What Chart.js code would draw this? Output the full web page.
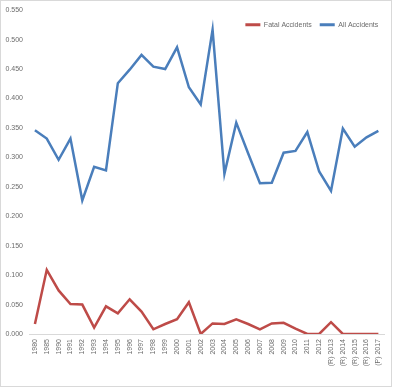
<!DOCTYPE html>
<html>
<head>
<meta charset="utf-8">
<script src="https://cdn.jsdelivr.net/npm/chart.js@4/dist/chart.umd.min.js"></script>
<style>
html,body{margin:0;padding:0;background:#fff;}
#wrap{position:absolute;left:0;top:0;width:393px;height:388px;}
#frame{position:absolute;left:0;top:0;width:392px;height:387px;box-sizing:border-box;border:1px solid #d9d9d9;pointer-events:none;}
</style>
</head>
<body>
<div id="wrap"><canvas id="c" width="393" height="388"></canvas></div>
<div id="frame"></div>
<script>
const categories = ["1980","1985","1990","1991","1992","1993","1994","1995","1996","1997","1998","1999","2000","2001","2002","2003","2004","2005","2006","2007","2008","2009","2010","2011","2012","(R) 2013","(R) 2014","(R) 2015","(R) 2016","(P) 2017"];
const fatalAccidents = [0.017,0.109,0.074,0.051,0.050,0.011,0.047,0.035,0.059,0.038,0.008,0.017,0.025,0.054,0.000,0.018,0.017,0.025,0.017,0.008,0.018,0.019,0.009,0.000,0.000,0.020,0.000,0.000,0.000,0.000];
const allAccidents = [0.346,0.332,0.296,0.332,0.227,0.284,0.278,0.426,0.449,0.474,0.454,0.450,0.487,0.419,0.390,0.517,0.272,0.359,0.307,0.256,0.257,0.308,0.311,0.343,0.276,0.243,0.349,0.318,0.334,0.345];
const yTicks = [0,0.05,0.1,0.15,0.2,0.25,0.3,0.35,0.4,0.45,0.5,0.55];

const RED = '#BE4B48', BLUE = '#4A7EBB', TXT = '#6b6b6b';
const FONT = {family: "'Liberation Sans', Arial, sans-serif", size: 7};

const legendFlat = {
  id: 'legendFlat',
  afterInit(chart){
    const lg = chart.legend;
    if (!lg) return;
    const f = lg.fit, d = lg.draw;
    lg.fit = function(){ f.call(this); this._realH = this.height; this.height = 0; };
    lg.draw = function(){
      const h = this.height, b = this.bottom;
      this.height = this._realH + 6; this.bottom = this.top + this.height;
      const ctx = this.ctx;
      ctx.save(); ctx.translate(2, 3);
      d.call(this);
      ctx.restore();
      this.height = h; this.bottom = b;
    };
  }
};

new Chart(document.getElementById('c'), {
  type: 'line',
  data: {
    labels: categories,
    datasets: [
      {label: 'Fatal Accidents', data: fatalAccidents, borderColor: RED, backgroundColor: RED, borderWidth: 2.5, pointRadius: 0, tension: 0},
      {label: 'All Accidents', data: allAccidents, borderColor: BLUE, backgroundColor: BLUE, borderWidth: 2.5, pointRadius: 0, tension: 0}
    ]
  },
  options: {
    responsive: false,
    animation: false,
    devicePixelRatio: 1,
    layout: {padding: {left: 0, right: 8.7, top: 9, bottom: 0}},
    plugins: {
      legend: {
        position: 'top',
        align: 'end',
        labels: {
          color: TXT, font: FONT, boxWidth: 15, boxHeight: 3, padding: 8,
          generateLabels(chart){
            return chart.data.datasets.map((ds, i) => ({
              text: ds.label, fillStyle: ds.borderColor, strokeStyle: ds.borderColor,
              lineWidth: 0, hidden: false, datasetIndex: i, fontColor: TXT
            }));
          }
        }
      },
      tooltip: {enabled: false}
    },
    scales: {
      x: {
        offset: true,
        grid: {display: false, drawTicks: false, tickLength: 0},
        border: {display: true, color: '#d9d9d9', width: 1},
        ticks: {color: TXT, font: FONT, minRotation: 90, maxRotation: 90, padding: 5, autoSkip: false},
        afterFit(s){ s.height = 54; }
      },
      y: {
        min: 0, max: 0.55,
        grid: {display: false, drawTicks: false, tickLength: 0},
        border: {display: false},
        afterBuildTicks(s){ s.ticks = yTicks.map(v => ({value: v})); },
        ticks: {color: TXT, font: FONT, padding: 6, callback: v => Number(v).toFixed(3)},
        afterFit(s){ s.width = 29; }
      }
    }
  },
  plugins: [legendFlat]
});
</script>
</body>
</html>
